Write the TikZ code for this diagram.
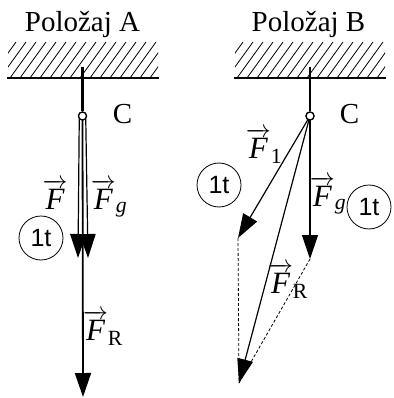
\documentclass[tikz,border=0pt]{standalone}
\usepackage{fontspec}
\usepackage{amsmath}
\setmainfont{Liberation Serif}
\newfontfamily\circfont{Liberation Sans}
\usetikzlibrary{arrows.meta}
\begin{document}
\begin{tikzpicture}[x=1pt,y=-1pt,
  lbl/.style={font=\fontsize{29}{33}\selectfont, inner sep=0pt, anchor=base},
  flbl/.style={font=\fontsize{31}{35}\selectfont, inner sep=0pt, anchor=base},
  ttag/.style={draw, circle, line width=0.8pt, minimum size=44pt, inner sep=0pt, font=\circfont\fontsize{25}{28}\selectfont},
  force/.style={line width=1.8pt, -{Triangle[length=24pt,width=16pt]}},
  thinforce/.style={line width=1.2pt, -{Triangle[length=24pt,width=16pt]}},
  joint/.style={draw, circle, line width=1.2pt, minimum size=8pt, inner sep=0pt, fill=white},
  rod/.style={line width=2.4pt},
  aux/.style={line width=0.8pt, dash pattern=on 3pt off 2pt},
  hatchl/.style={line width=0.8pt},
  ground/.style={line width=2pt}
]
\useasboundingbox (0,0) rectangle (393,398);

% ---------- Position A ----------
\node[lbl] (titleA) at (82.5,32) {Položaj A};
\begin{scope}
  \clip (8,42) rectangle (158,78);
  \foreach \i in {-40,-30,...,170} \draw[hatchl] (\i,78) -- ++(26,-36);
\end{scope}
\coordinate (gAl) at (7,78);
\coordinate (gAr) at (159,78);
\draw[ground] (gAl) -- (gAr);
\coordinate (topA) at (82.5,67);
\node[joint] (CA) at (82.5,116) {};
\coordinate (tipFA) at (78,258);
\coordinate (tipGA) at (88,258);
\coordinate (tipRA) at (83,397);
\draw[rod] (topA) -- (CA.north);
\draw[force] (CA.center) -- (tipRA);
\draw[thinforce] (CA.south west) -- (tipFA);
\draw[thinforce] (CA.south east) -- (tipGA);
\node[joint] at (CA) {};
\node[lbl] (labCA) at (122.5,124) {C};
\node[flbl] (labFA) at (55,209) {$\overrightarrow{\textit{F}}$};
\node[flbl] (labGA) at (109,209) {$\overrightarrow{\textit{F}}_{\textit{g}}$};
\node[flbl] (labRA) at (103,340) {$\overrightarrow{\textit{F}}_{\text{R}}$};
\node[ttag] (tA) at (41,238) {1t};

% ---------- Position B ----------
\node[lbl] (titleB) at (308.5,32) {Položaj B};
\begin{scope}
  \clip (235,42) rectangle (385,78);
  \foreach \i in {187,197,...,397} \draw[hatchl] (\i,78) -- ++(26,-36);
\end{scope}
\coordinate (gBl) at (234,78);
\coordinate (gBr) at (386,78);
\draw[ground] (gBl) -- (gBr);
\coordinate (topB) at (310,67);
\node[joint] (CB) at (310,116) {};
\coordinate (tipF1) at (238,238);
\coordinate (tipGB) at (310,259);
\coordinate (tipRB) at (239,383);
\draw[aux] (tipF1) -- (tipRB);
\draw[aux] (tipGB) -- (tipRB);
\draw[rod] (topB) -- (CB.north);
\draw[thinforce] (CB.center) -- (tipF1);
\draw[thinforce] (CB.center) -- (tipGB);
\draw[thinforce] (CB.center) -- (tipRB);
\node[joint] at (CB) {};
\node[lbl] (labCB) at (349.5,124) {C};
\node[flbl] (labF1) at (264,158) {$\overrightarrow{\textit{F}}_{\text{1}}$};
\node[flbl] (labGB) at (328,206) {$\overrightarrow{\textit{F}}_{\textit{g}}$};
\node[flbl] (labRB) at (288,293) {$\overrightarrow{\textit{F}}_{\text{R}}$};
\node[ttag] (tB1) at (219,185) {1t};
\node[ttag] (tB2) at (369,207) {1t};
\end{tikzpicture}
\end{document}
